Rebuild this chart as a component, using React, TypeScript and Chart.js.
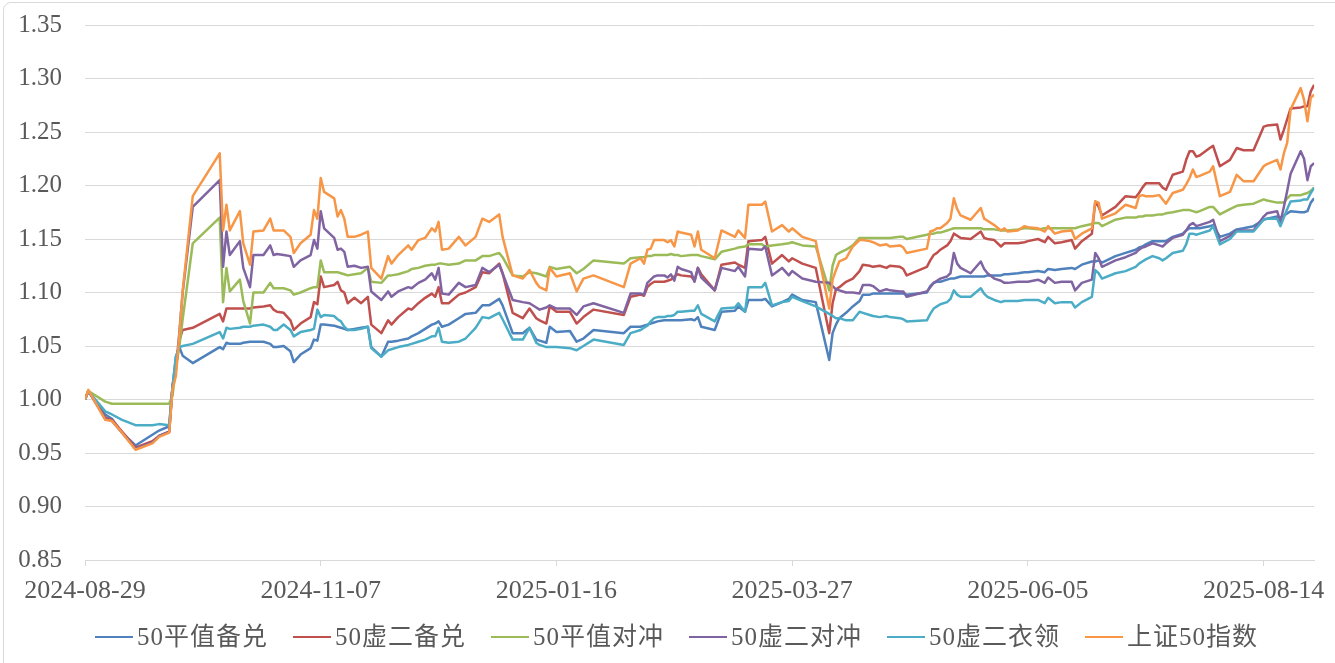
import React, { useEffect, useRef } from "react";
import { Chart, registerables } from "chart.js";

Chart.register(...registerables);

// calendar days since 2024-08-29
const dayOffsets = [
  0, 1, 6, 8, 11, 15, 20, 22, 25, 26, 27, 28, 29, 32, 40, 41, 42, 43, 46, 47, 49, 50, 53, 55, 56, 57,
  59, 61, 62, 64, 67, 68, 69, 70, 71, 74, 75, 76, 77, 78, 80, 82, 84, 85, 88, 90, 91, 93, 96, 97, 99, 101, 103, 104, 105, 106, 108, 111, 113,
  116, 118, 120, 123, 124, 127, 130, 132, 134, 135, 137, 138, 140, 144, 146, 148, 151, 160, 162, 165, 166, 167, 168, 169, 170,
  172, 173, 174, 175, 176, 177, 180, 181, 182, 183, 187, 189, 193, 194, 196, 197, 201, 202, 204, 207, 209, 210, 213, 217, 221, 222, 223, 224, 226,
  228, 230, 231, 233, 234, 236, 238, 239, 242, 243, 244, 250, 251, 252, 253, 254, 256, 257, 258, 259, 260, 263, 266, 267, 268, 270, 272, 273, 274, 277, 279, 280, 283,
  285, 286, 288, 290, 293, 294, 296, 299, 300, 301, 302, 306, 309, 312, 313, 314, 315, 317, 319, 320, 321, 323, 326, 327, 328, 329, 330, 331, 334, 335, 337, 340, 342, 344, 347, 350, 351, 354, 355, 356, 357, 358, 361, 362, 363, 364, 365,
];

const tickDays = [0, 70, 140, 210, 280, 350];
const tickLabels = ["2024-08-29", "2024-11-07", "2025-01-16", "2025-03-27", "2025-06-05", "2025-08-14"];

const seriesNames = ["50平值备兑", "50虚二备兑", "50平值对冲", "50虚二对冲", "50虚二衣领", "上证50指数"];
const seriesColors = ["#4F81BD", "#C0504D", "#9BBB59", "#8064A2", "#4BACC6", "#F79646"];

const pingzhiBeidui = [
  1.000, 1.008, 0.986, 0.982, 0.969, 0.957, 0.967, 0.971, 0.975, 1.012, 1.040, 1.049, 1.041, 1.034, 1.049, 1.047, 1.053, 1.052, 1.052, 1.053, 1.054, 1.054, 1.054, 1.052, 1.049, 1.049,
  1.050, 1.045, 1.035, 1.042, 1.048, 1.056, 1.055, 1.070, 1.070, 1.069, 1.068, 1.067, 1.066, 1.065, 1.066, 1.067, 1.068, 1.049, 1.040, 1.054, 1.054, 1.055, 1.057, 1.059, 1.062, 1.066, 1.070, 1.071, 1.073, 1.068, 1.070, 1.076, 1.080,
  1.081, 1.088, 1.088, 1.094, 1.088, 1.062, 1.062, 1.067, 1.056, 1.055, 1.053, 1.068, 1.063, 1.064, 1.054, 1.057, 1.065, 1.062, 1.068, 1.068, 1.069, 1.070, 1.071, 1.072, 1.073,
  1.074, 1.074, 1.074, 1.074, 1.074, 1.074, 1.075, 1.074, 1.077, 1.068, 1.065, 1.082, 1.083, 1.087, 1.082, 1.093, 1.093, 1.094, 1.087, 1.091, 1.094, 1.098, 1.093, 1.091, 1.037, 1.062, 1.070, 1.076, 1.081,
  1.087, 1.092, 1.098, 1.098, 1.099, 1.099, 1.099, 1.099, 1.099, 1.099, 1.098, 1.100, 1.106, 1.109, 1.110, 1.110, 1.112, 1.113, 1.113, 1.114, 1.115, 1.115, 1.115, 1.115, 1.116, 1.116, 1.116, 1.117, 1.117, 1.118, 1.119, 1.119, 1.120,
  1.119, 1.122, 1.121, 1.122, 1.123, 1.122, 1.126, 1.129, 1.129, 1.130, 1.128, 1.134, 1.137, 1.140, 1.142, 1.143, 1.145, 1.148, 1.148, 1.148, 1.148, 1.152, 1.155, 1.158, 1.160, 1.160, 1.160, 1.160, 1.162, 1.163, 1.152, 1.155, 1.159, 1.160, 1.162, 1.168, 1.169, 1.171, 1.170, 1.172, 1.174, 1.176, 1.175, 1.175, 1.176, 1.184, 1.188,
];

const xuerBeidui = [
  1.000, 1.008, 0.983, 0.981, 0.970, 0.955, 0.961, 0.966, 0.970, 1.012, 1.030, 1.055, 1.065, 1.067, 1.080, 1.073, 1.085, 1.085, 1.085, 1.085, 1.085, 1.086, 1.087, 1.088, 1.084, 1.082,
  1.081, 1.074, 1.065, 1.071, 1.077, 1.091, 1.089, 1.115, 1.105, 1.107, 1.110, 1.102, 1.100, 1.090, 1.095, 1.090, 1.096, 1.070, 1.062, 1.074, 1.070, 1.077, 1.085, 1.084, 1.090, 1.095, 1.099, 1.096, 1.105, 1.090, 1.090, 1.098, 1.100,
  1.105, 1.119, 1.118, 1.127, 1.118, 1.081, 1.076, 1.085, 1.076, 1.074, 1.071, 1.087, 1.082, 1.082, 1.071, 1.077, 1.084, 1.079, 1.096, 1.098, 1.097, 1.105, 1.108, 1.110, 1.110,
  1.110, 1.111, 1.112, 1.115, 1.117, 1.116, 1.115, 1.111, 1.123, 1.117, 1.102, 1.126, 1.128, 1.126, 1.123, 1.148, 1.149, 1.152, 1.127, 1.135, 1.129, 1.132, 1.127, 1.123, 1.062, 1.090, 1.103, 1.105, 1.110,
  1.113, 1.120, 1.126, 1.125, 1.124, 1.125, 1.123, 1.125, 1.124, 1.122, 1.116, 1.124, 1.130, 1.135, 1.137, 1.140, 1.144, 1.148, 1.155, 1.153, 1.151, 1.150, 1.157, 1.151, 1.150, 1.149, 1.143, 1.146, 1.146, 1.146, 1.147, 1.148, 1.150,
  1.147, 1.152, 1.146, 1.147, 1.149, 1.141, 1.148, 1.155, 1.185, 1.180, 1.172, 1.180, 1.190, 1.189, 1.193, 1.198, 1.202, 1.202, 1.202, 1.198, 1.196, 1.210, 1.213, 1.224, 1.232, 1.232, 1.227, 1.228, 1.235, 1.237, 1.218, 1.224, 1.235, 1.233, 1.233, 1.255, 1.256, 1.257, 1.243, 1.252, 1.262, 1.272, 1.273, 1.274, 1.274, 1.288, 1.294,
];

const pingzhiDuichong = [
  1.000, 1.008, 0.998, 0.996, 0.996, 0.996, 0.996, 0.996, 0.996, 1.004, 1.030, 1.049, 1.075, 1.146, 1.170, 1.091, 1.123, 1.101, 1.112, 1.092, 1.071, 1.100, 1.100, 1.109, 1.104, 1.104,
  1.104, 1.102, 1.098, 1.100, 1.104, 1.105, 1.105, 1.130, 1.119, 1.119, 1.119, 1.118, 1.117, 1.116, 1.117, 1.118, 1.123, 1.110, 1.109, 1.116, 1.116, 1.117, 1.120, 1.122, 1.123, 1.125, 1.126, 1.126, 1.127, 1.127, 1.126, 1.127, 1.130,
  1.130, 1.134, 1.134, 1.137, 1.133, 1.116, 1.115, 1.119, 1.118, 1.117, 1.115, 1.124, 1.122, 1.124, 1.118, 1.122, 1.130, 1.127, 1.132, 1.133, 1.133, 1.134, 1.134, 1.135, 1.135,
  1.135, 1.135, 1.136, 1.135, 1.135, 1.134, 1.135, 1.135, 1.135, 1.134, 1.131, 1.138, 1.141, 1.142, 1.143, 1.145, 1.145, 1.143, 1.144, 1.145, 1.146, 1.147, 1.144, 1.143, 1.102, 1.125, 1.135, 1.137, 1.140,
  1.144, 1.151, 1.151, 1.151, 1.151, 1.151, 1.151, 1.151, 1.152, 1.152, 1.150, 1.154, 1.155, 1.155, 1.156, 1.156, 1.158, 1.159, 1.160, 1.160, 1.160, 1.160, 1.160, 1.159, 1.159, 1.159, 1.158, 1.158, 1.158, 1.159, 1.160, 1.160, 1.159,
  1.160, 1.160, 1.160, 1.160, 1.160, 1.160, 1.162, 1.164, 1.165, 1.165, 1.162, 1.168, 1.170, 1.170, 1.171, 1.171, 1.172, 1.172, 1.173, 1.173, 1.174, 1.175, 1.177, 1.177, 1.177, 1.176, 1.175, 1.176, 1.180, 1.180, 1.173, 1.178, 1.181, 1.182, 1.183, 1.187, 1.186, 1.184, 1.184, 1.184, 1.188, 1.191, 1.191, 1.192, 1.193, 1.195, 1.198,
];

const xuerDuichong = [
  1.000, 1.008, 0.982, 0.980, 0.969, 0.954, 0.960, 0.966, 0.970, 1.013, 1.028, 1.062, 1.100, 1.180, 1.205, 1.124, 1.157, 1.135, 1.148, 1.123, 1.105, 1.135, 1.135, 1.144, 1.135, 1.136,
  1.135, 1.134, 1.124, 1.130, 1.135, 1.149, 1.141, 1.176, 1.160, 1.151, 1.140, 1.141, 1.138, 1.124, 1.125, 1.123, 1.124, 1.101, 1.093, 1.101, 1.096, 1.101, 1.105, 1.104, 1.109, 1.112, 1.118, 1.112, 1.123, 1.099, 1.098, 1.109, 1.105,
  1.107, 1.123, 1.119, 1.126, 1.118, 1.093, 1.091, 1.090, 1.086, 1.084, 1.086, 1.088, 1.085, 1.085, 1.079, 1.087, 1.090, 1.081, 1.099, 1.099, 1.098, 1.109, 1.112, 1.115, 1.116,
  1.116, 1.114, 1.117, 1.111, 1.124, 1.122, 1.119, 1.110, 1.123, 1.114, 1.102, 1.123, 1.120, 1.124, 1.115, 1.141, 1.140, 1.143, 1.116, 1.123, 1.116, 1.120, 1.113, 1.110, 1.109, 1.106, 1.103, 1.102, 1.100,
  1.100, 1.099, 1.107, 1.107, 1.106, 1.101, 1.103, 1.102, 1.101, 1.101, 1.096, 1.101, 1.105, 1.109, 1.111, 1.113, 1.115, 1.118, 1.137, 1.127, 1.123, 1.118, 1.129, 1.122, 1.118, 1.113, 1.111, 1.109, 1.109, 1.110, 1.110, 1.110, 1.112,
  1.109, 1.114, 1.109, 1.110, 1.110, 1.102, 1.109, 1.112, 1.137, 1.132, 1.124, 1.130, 1.133, 1.137, 1.140, 1.142, 1.143, 1.146, 1.144, 1.143, 1.146, 1.151, 1.154, 1.158, 1.163, 1.165, 1.162, 1.163, 1.166, 1.168, 1.148, 1.153, 1.158, 1.158, 1.158, 1.171, 1.174, 1.176, 1.166, 1.180, 1.195, 1.211, 1.232, 1.225, 1.205, 1.218, 1.221,
];

const xuerYiling = [
  1.000, 1.008, 0.989, 0.986, 0.981, 0.976, 0.976, 0.977, 0.976, 1.012, 1.040, 1.049, 1.050, 1.052, 1.063, 1.057, 1.067, 1.066, 1.067, 1.068, 1.068, 1.069, 1.070, 1.068, 1.065, 1.065,
  1.070, 1.065, 1.059, 1.063, 1.065, 1.066, 1.084, 1.077, 1.079, 1.078, 1.075, 1.073, 1.068, 1.065, 1.065, 1.066, 1.068, 1.048, 1.040, 1.046, 1.047, 1.049, 1.051, 1.052, 1.054, 1.056, 1.059, 1.059, 1.067, 1.054, 1.053, 1.054, 1.057,
  1.067, 1.077, 1.076, 1.081, 1.075, 1.056, 1.056, 1.067, 1.053, 1.051, 1.049, 1.049, 1.049, 1.048, 1.046, 1.050, 1.056, 1.051, 1.062, 1.065, 1.067, 1.069, 1.073, 1.076, 1.077,
  1.077, 1.078, 1.078, 1.079, 1.082, 1.082, 1.083, 1.083, 1.088, 1.080, 1.073, 1.085, 1.086, 1.090, 1.082, 1.105, 1.105, 1.109, 1.088, 1.091, 1.092, 1.096, 1.092, 1.087, 1.080, 1.078, 1.076, 1.076, 1.074,
  1.074, 1.082, 1.081, 1.079, 1.078, 1.077, 1.078, 1.077, 1.076, 1.075, 1.073, 1.074, 1.080, 1.085, 1.087, 1.089, 1.091, 1.094, 1.102, 1.098, 1.096, 1.096, 1.104, 1.099, 1.096, 1.093, 1.091, 1.092, 1.092, 1.092, 1.093, 1.093, 1.093,
  1.090, 1.095, 1.090, 1.091, 1.091, 1.086, 1.091, 1.096, 1.121, 1.118, 1.113, 1.118, 1.120, 1.124, 1.127, 1.129, 1.131, 1.134, 1.132, 1.130, 1.132, 1.137, 1.139, 1.145, 1.155, 1.155, 1.154, 1.155, 1.158, 1.162, 1.145, 1.150, 1.157, 1.157, 1.157, 1.168, 1.169, 1.169, 1.162, 1.170, 1.178, 1.185, 1.186, 1.187, 1.187, 1.193, 1.198,
];

const sz50Index = [
  1.000, 1.009, 0.981, 0.980, 0.969, 0.953, 0.959, 0.965, 0.969, 1.010, 1.022, 1.060, 1.101, 1.190, 1.230, 1.158, 1.182, 1.158, 1.176, 1.146, 1.126, 1.157, 1.158, 1.169, 1.158, 1.158,
  1.158, 1.152, 1.137, 1.146, 1.154, 1.177, 1.169, 1.207, 1.194, 1.188, 1.171, 1.177, 1.169, 1.152, 1.152, 1.154, 1.157, 1.123, 1.113, 1.134, 1.127, 1.135, 1.144, 1.140, 1.149, 1.151, 1.160, 1.157, 1.166, 1.140, 1.141, 1.152, 1.144,
  1.152, 1.169, 1.166, 1.173, 1.152, 1.116, 1.113, 1.121, 1.109, 1.105, 1.102, 1.123, 1.115, 1.118, 1.101, 1.113, 1.116, 1.105, 1.127, 1.132, 1.127, 1.140, 1.141, 1.149, 1.149,
  1.149, 1.147, 1.149, 1.143, 1.157, 1.156, 1.154, 1.143, 1.157, 1.140, 1.132, 1.158, 1.152, 1.158, 1.151, 1.182, 1.182, 1.185, 1.157, 1.163, 1.157, 1.160, 1.152, 1.148, 1.085, 1.112, 1.121, 1.129, 1.132,
  1.143, 1.149, 1.149, 1.148, 1.147, 1.144, 1.145, 1.143, 1.144, 1.142, 1.137, 1.141, 1.157, 1.158, 1.160, 1.160, 1.165, 1.169, 1.188, 1.178, 1.172, 1.168, 1.179, 1.169, 1.167, 1.163, 1.158, 1.160, 1.157, 1.158, 1.162, 1.161, 1.160,
  1.157, 1.162, 1.155, 1.157, 1.158, 1.150, 1.155, 1.160, 1.185, 1.184, 1.169, 1.174, 1.182, 1.179, 1.190, 1.191, 1.190, 1.190, 1.191, 1.187, 1.183, 1.193, 1.196, 1.201, 1.207, 1.215, 1.208, 1.209, 1.213, 1.218, 1.190, 1.194, 1.210, 1.204, 1.204, 1.218, 1.220, 1.224, 1.215, 1.230, 1.240, 1.271, 1.291, 1.280, 1.260, 1.282, 1.285,
];

const FONT = '"Liberation Serif", "Noto Sans CJK SC", serif';
const TEXT_COLOR = "#595959";
const GRID_COLOR = "#d9d9d9";

export default function App() {
  const canvasRef = useRef<HTMLCanvasElement | null>(null);

  useEffect(() => {
    const canvas = canvasRef.current;
    if (!canvas) return;
    const allSeries = [pingzhiBeidui, xuerBeidui, pingzhiDuichong, xuerDuichong, xuerYiling, sz50Index];
    allSeries.forEach((s, i) => {
      if (s.length !== dayOffsets.length) {
        throw new Error(`series ${i} length ${s.length} != ${dayOffsets.length}`);
      }
    });

    const chart = new Chart(canvas, {
      type: "line",
      data: {
        datasets: allSeries.map((vals, i) => ({
          label: seriesNames[i],
          data: vals.map((v, j) => ({ x: dayOffsets[j], y: v })),
          borderColor: seriesColors[i],
          backgroundColor: seriesColors[i],
          borderWidth: 2.5,
          pointRadius: 0,
          pointHoverRadius: 0,
          tension: 0,
          fill: false,
          order: allSeries.length - i,
          borderJoinStyle: "round" as const,
        })),
      },
      options: {
        animation: false,
        responsive: true,
        maintainAspectRatio: false,
        layout: { padding: { top: 25, right: 17, bottom: 53, left: 0 } },
        plugins: {
          legend: { display: false },
          tooltip: { enabled: false },
        },
        scales: {
          x: {
            type: "linear",
            min: 0,
            max: 365,
            afterBuildTicks: (s: any) => {
              s.ticks = tickDays.map((v) => ({ value: v }));
            },
            afterFit: (s: any) => {
              s.height = 50;
            },
            grid: {
              display: true,
              drawOnChartArea: false,
              drawTicks: true,
              tickLength: 6,
              color: GRID_COLOR,
            },
            border: { display: true, color: GRID_COLOR, width: 1 },
            ticks: {
              autoSkip: false,
              maxRotation: 0,
              minRotation: 0,
              padding: 10,
              color: TEXT_COLOR,
              font: { family: FONT, size: 26 },
              callback: (v: any) => {
                const k = tickDays.indexOf(Number(v));
                return k >= 0 ? tickLabels[k] : "";
              },
            },
          },
          y: {
            min: 0.85,
            max: 1.35,
            afterFit: (s: any) => {
              s.width = 85;
              s.paddingTop = 0;
              s.paddingBottom = 0;
            },
            grid: { color: GRID_COLOR, lineWidth: 1, drawTicks: false },
            border: { display: false },
            ticks: {
              stepSize: 0.05,
              padding: 23,
              color: TEXT_COLOR,
              font: { family: FONT, size: 25 },
              callback: (v: any) => Number(v).toFixed(2),
            },
          },
        },
      },
    });
    return () => chart.destroy();
  }, []);

  return (
    <div
      style={{
        position: "fixed",
        left: 0,
        top: 0,
        width: 1335,
        height: 663,
        background: "#ffffff",
        overflow: "hidden",
      }}
    >
      <canvas ref={canvasRef} style={{ display: "block" }} />
      {seriesNames.map((name, i) => (
        <div
          key={name}
          style={{
            position: "absolute",
            left: 95 + i * 198,
            top: 622,
            height: 30,
            display: "flex",
            alignItems: "center",
            whiteSpace: "nowrap",
          }}
        >
          <span
            style={{
              display: "inline-block",
              width: 38,
              height: 2.5,
              background: seriesColors[i],
              marginRight: 4,
            }}
          />
          <span
            style={{
              fontFamily: FONT,
              fontSize: 25,
              lineHeight: "30px",
              color: TEXT_COLOR,
              letterSpacing: 1,
            }}
          >
            {name}
          </span>
        </div>
      ))}
      <div
        style={{
          position: "absolute",
          left: 3,
          top: 2,
          width: 1345,
          height: 675,
          border: "1px solid #d9d9d9",
          borderRadius: 8,
          boxSizing: "border-box",
          pointerEvents: "none",
        }}
      />
    </div>
  );
}
